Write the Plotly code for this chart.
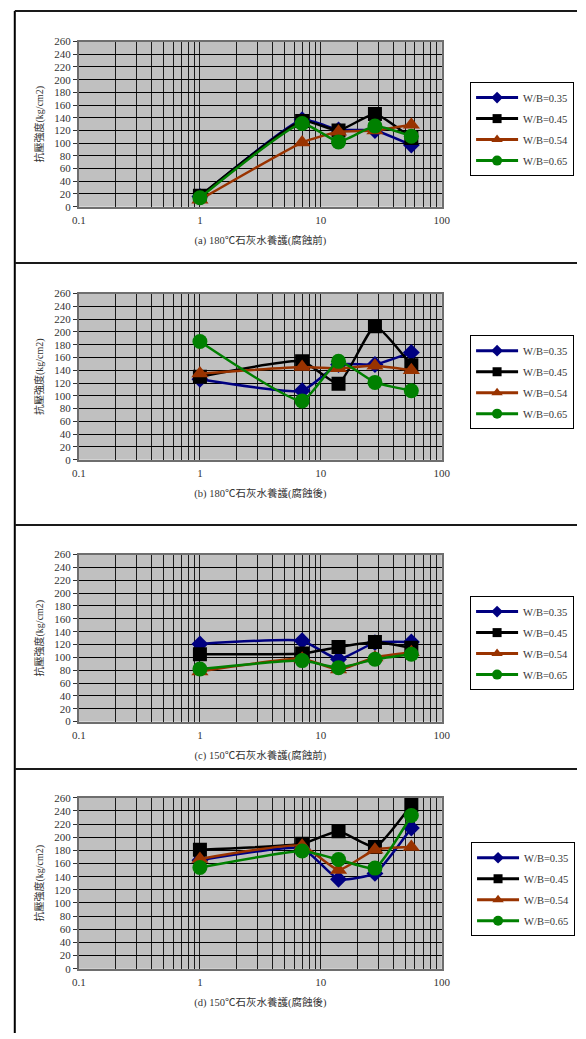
import plotly.graph_objects as go

# Curing age (days) on a log axis
days = [1, 7, 14, 28, 56]
series_names = ["W/B=0.35", "W/B=0.45", "W/B=0.54", "W/B=0.65"]

# (a) 180℃ lime-water curing, before corrosion
a_035 = [16, 137, 121, 120, 97]
a_045 = [17, 135, 120, 146, 108]
a_054 = [11, 101, 118, 120, 129]
a_065 = [14, 131, 102, 127, 111]

# (b) 180℃ lime-water curing, after corrosion
b_035 = [126, 108, 149, 149, 168]
b_045 = [130, 154, 119, 209, 148]
b_054 = [135, 145, 143, 147, 140]
b_065 = [185, 92, 154, 121, 108]

# (c) 150℃ lime-water curing, before corrosion
c_035 = [121, 126, 97, 123, 124]
c_045 = [105, 106, 116, 124, 115]
c_054 = [78, 98, 81, 100, 108]
c_065 = [82, 95, 84, 97, 105]

# (d) 150℃ lime-water curing, after corrosion
d_035 = [165, 183, 136, 145, 214]
d_045 = [181, 190, 209, 185, 249]
d_054 = [167, 187, 150, 181, 185]
d_065 = [154, 179, 166, 153, 233]

panels = [
    [a_035, a_045, a_054, a_065],
    [b_035, b_045, b_054, b_065],
    [c_035, c_045, c_054, c_065],
    [d_035, d_045, d_054, d_065],
]
captions = [
    "(a) 180℃石灰水養護(腐蝕前)",
    "(b) 180℃石灰水養護(腐蝕後)",
    "(c) 150℃石灰水養護(腐蝕前)",
    "(d) 150℃石灰水養護(腐蝕後)",
]
y_title = "抗壓強度(kg/cm2)"

x_grid_vals = [0.1, 0.2, 0.3, 0.4, 0.5, 0.6, 0.7, 0.8, 0.9,
               1, 2, 3, 4, 5, 6, 7, 8, 9,
               10, 20, 30, 40, 50, 60, 70, 80, 90, 100]
x_tick_text = ["0.1", "", "", "", "", "", "", "", "",
               "1", "", "", "", "", "", "", "", "",
               "10", "", "", "", "", "", "", "", "", "100"]
y_tick_vals = list(range(0, 261, 20))

colors = ["#000080", "#000000", "#993300", "#008000"]
symbols = ["diamond", "square", "triangle-up", "circle"]
chart_sizes = [13, 14, 15, 15]
legend_sizes = [9, 9, 10, 10]

W, H = 586, 1039
SERIF = "Liberation Serif, 'Times New Roman', 'Noto Sans CJK TC', serif"

# plot areas in pixels: (top, bottom)
plot_px = [(36, 203), (291, 459), (555, 724), (801, 974)]
x_px = (74, 447)
# legend boxes: (right edge, top edge) in pixels
legend_px = [(583, 77), (583, 333), (583, 597), (584, 846)]

fig = go.Figure()

for p, (series, (top, bottom)) in enumerate(zip(panels, plot_px)):
    idx = "" if p == 0 else str(p + 1)
    xa, ya = "x" + idx, "y" + idx
    leg = "legend" + idx
    for s in range(4):
        fig.add_trace(go.Scatter(
            x=days, y=series[s], xaxis=xa, yaxis=ya,
            mode="lines+markers", name=series_names[s],
            legendgroup=f"p{p}s{s}",
            line=dict(color=colors[s], width=2.5, shape="spline", smoothing=0.45),
            marker=dict(symbol=symbols[s], size=chart_sizes[s], color=colors[s]),
            showlegend=False, hoverinfo="skip",
        ))
    for s in range(4):
        fig.add_trace(go.Scatter(
            x=[None], y=[None], xaxis=xa, yaxis=ya,
            mode="lines+markers", name=series_names[s], legend=leg,
            legendgroup=f"p{p}s{s}",
            line=dict(color=colors[s], width=3),
            marker=dict(symbol=symbols[s], size=legend_sizes[s], color=colors[s]),
            showlegend=True,
        ))

    fig.layout["xaxis" + idx] = dict(
        type="log", range=[-1, 2], anchor=ya,
        domain=[x_px[0] / W, x_px[1] / W],
        tickmode="array", tickvals=x_grid_vals, ticktext=x_tick_text,
        showgrid=True, gridcolor="#1a1a1a", gridwidth=1,
        showline=True, linecolor="#6e6e6e", linewidth=2, mirror=True,
        ticks="", ticklabelstandoff=2,
        tickfont=dict(family=SERIF, size=11, color="#333333"),
        title=dict(text=captions[p], standoff=12,
                   font=dict(family=SERIF, size=10.5, color="#333333")),
        zeroline=False, fixedrange=True,
    )
    fig.layout["yaxis" + idx] = dict(
        range=[0, 260], anchor=xa,
        domain=[1 - bottom / H, 1 - top / H],
        tickmode="array", tickvals=y_tick_vals,
        showgrid=True, gridcolor="#000000", gridwidth=1,
        showline=True, linecolor="#6e6e6e", linewidth=2, mirror=True,
        ticks="outside", ticklen=4, tickcolor="#333333",
        tickfont=dict(family=SERIF, size=11, color="#333333"),
        title=dict(text=y_title, standoff=9,
                   font=dict(family=SERIF, size=10, color="#333333")),
        zeroline=False, fixedrange=True,
    )
    lx, ly = legend_px[p]
    fig.layout[leg] = dict(
        x=lx / W, y=1 - ly / H, xanchor="right", yanchor="top",
        bgcolor="white", bordercolor="#000000", borderwidth=1,
        itemwidth=42, tracegroupgap=2,
        font=dict(family=SERIF, size=10.5, color="#333333"),
    )

# panel frame lines
frame_y = [5, 260, 525, 772]
shapes = [dict(type="line", xref="paper", yref="paper",
               x0=8 / W, x1=8 / W, y0=0, y1=1 - 5 / H,
               line=dict(color="#000000", width=2))]
for fy in frame_y:
    shapes.append(dict(type="line", xref="paper", yref="paper",
                       x0=8 / W, x1=1, y0=1 - fy / H, y1=1 - fy / H,
                       line=dict(color="#1a1a1a", width=2)))

fig.update_layout(
    width=W, height=H,
    margin=dict(l=0, r=0, t=0, b=0),
    paper_bgcolor="white", plot_bgcolor="#c0c0c0",
    shapes=shapes,
)

fig.write_html("out.html", post_script="document.body.style.margin='0px';")
